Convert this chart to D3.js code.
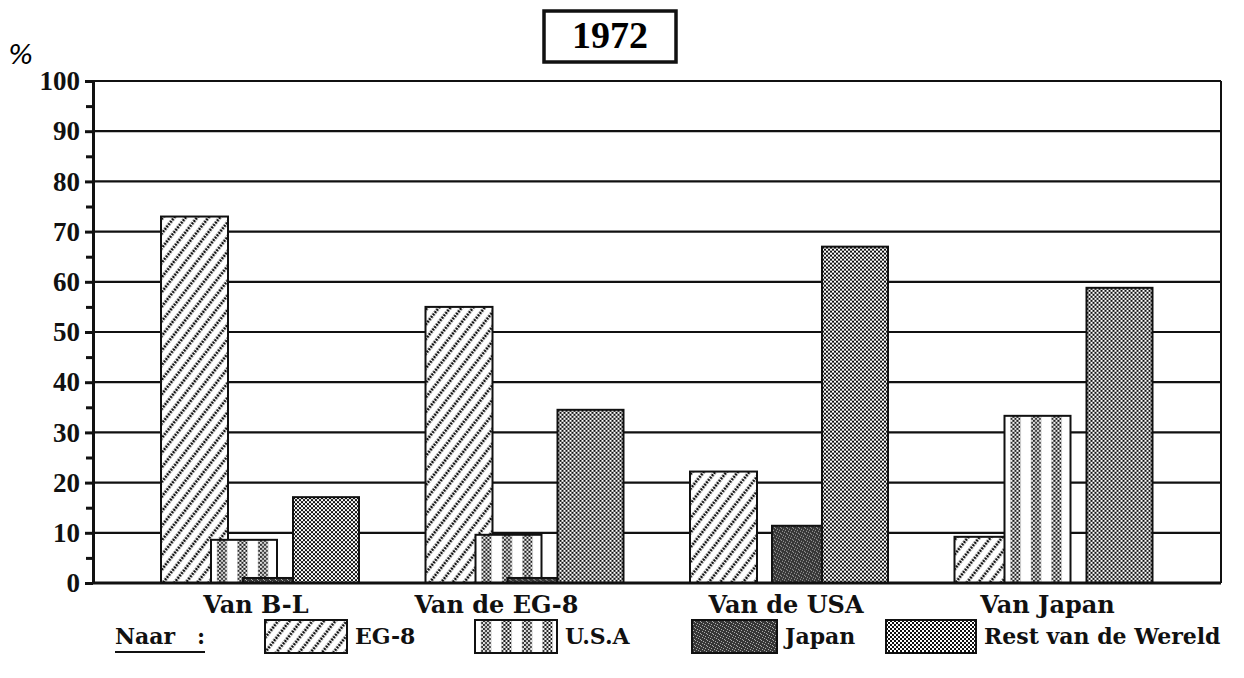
<!DOCTYPE html>
<html>
<head>
<meta charset="utf-8">
<title>1972</title>
<script src="https://cdn.jsdelivr.net/npm/d3@7"></script>
<style>
body { margin: 0; background: #fff; }
.lbl { font-family: "DejaVu Serif", serif; font-weight: bold; font-size: 22px; fill: #111; }
.cat { font-size: 24px; }
.axis text { font-family: "Liberation Serif", serif; font-weight: bold; font-size: 27px; fill: #111; }
.axis path, .axis line { stroke: #111; }
</style>
</head>
<body>
<script>
var categories = ["Van B-L", "Van de EG-8", "Van de USA", "Van Japan"];
var series = ["EG-8", "U.S.A", "Japan", "Rest van de Wereld"];
var eg8   = [73, 55, 22.2, 9.2];
var usa   = [8.6, 9.6, 0, 33.3];
var japan = [1, 1, 11.4, 0];
var rest  = [17.1, 34.5, 67, 58.8];
var yTicks = [0, 10, 20, 30, 40, 50, 60, 70, 80, 90, 100];
var yMinor = [5, 15, 25, 35, 45, 55, 65, 75, 85, 95];

// layout (pixels)
var plot = {left: 93, right: 1221, top: 81, bottom: 583};
var barOffset = [0, 50, 82, 132],
    barWidth  = [67, 66, 50, 66];
var labelShift = [-4, -28, -3, -6];
var legendBox = [[265, 82], [475, 82], [692, 85], [886, 90]];

var values = [eg8, usa, japan, rest];
var fills = ["url(#hatch)", "url(#stripes)", "url(#dark)", "url(#checker)"];

var svg = d3.select("body").append("svg")
    .attr("width", 1244)
    .attr("height", 678);

// fill patterns
var defs = svg.append("defs");
var chk = defs.append("pattern").attr("id", "checker")
    .attr("patternUnits", "userSpaceOnUse").attr("width", 4).attr("height", 4);
chk.append("rect").attr("width", 4).attr("height", 4).attr("fill", "#fff");
chk.append("rect").attr("width", 2).attr("height", 2).attr("fill", "#111");
chk.append("rect").attr("x", 2).attr("y", 2).attr("width", 2).attr("height", 2).attr("fill", "#111");

var hatch = defs.append("pattern").attr("id", "hatch")
    .attr("patternUnits", "userSpaceOnUse").attr("width", 9).attr("height", 9)
    .attr("patternTransform", "rotate(38)");
hatch.append("rect").attr("width", 9).attr("height", 9).attr("fill", "#fff");
hatch.append("line").attr("x1", 2).attr("x2", 2).attr("y1", 0).attr("y2", 9)
    .attr("stroke", "#111").attr("stroke-width", 2.8).attr("stroke-dasharray", "2,1");

var stripes = defs.append("pattern").attr("id", "stripes")
    .attr("patternUnits", "userSpaceOnUse").attr("width", 20.5).attr("height", 8);
stripes.append("rect").attr("width", 20.5).attr("height", 8).attr("fill", "#fff");
stripes.append("rect").attr("x", 6).attr("width", 10).attr("height", 8).attr("fill", "url(#checker)");

var dark = defs.append("pattern").attr("id", "dark")
    .attr("patternUnits", "userSpaceOnUse").attr("width", 6).attr("height", 6);
dark.append("rect").attr("width", 6).attr("height", 6).attr("fill", "#363636");
[[0, 0], [3, 2], [1, 4], [5, 3], [4, 5], [2, 1]].forEach(function(p) {
  dark.append("rect").attr("x", p[0]).attr("y", p[1]).attr("width", 1).attr("height", 1).attr("fill", "#aaa");
});

var y = d3.scaleLinear().domain([0, 100]).range([plot.bottom, plot.top]);
var x = d3.scaleBand().domain(categories).range([161, 161 + 4 * 264.5]);

// grid lines
svg.append("g").selectAll("line")
    .data(yTicks.slice(1))
  .enter().append("line")
    .attr("x1", plot.left).attr("x2", plot.right)
    .attr("y1", function(d) { return y(d); })
    .attr("y2", function(d) { return y(d); })
    .attr("stroke", "#111").attr("stroke-width", 2.2);

svg.append("line")
    .attr("x1", plot.right).attr("x2", plot.right)
    .attr("y1", plot.top).attr("y2", plot.bottom)
    .attr("stroke", "#111").attr("stroke-width", 2);

// bars, one series after the other so later ones lie on top
series.forEach(function(s, si) {
  svg.append("g").selectAll("g")
      .data(categories)
    .enter().append("g")
      .attr("transform", function(c, ci) {
        return "translate(" + (x(c) + barOffset[si]) + "," + y(values[si][ci]) + ")";
      })
      .filter(function(c, ci) { return values[si][ci] > 0; })
    .append("rect")
      .attr("width", barWidth[si])
      .attr("height", function(c) { return y(0) - y(values[si][categories.indexOf(c)]); })
      .attr("fill", fills[si])
      .attr("stroke", "#111")
      .attr("stroke-width", 2);
});

// axes
svg.append("g")
    .attr("class", "axis")
    .attr("transform", "translate(" + plot.left + ",0)")
    .call(d3.axisLeft(y).tickValues(yTicks).tickSize(8).tickSizeOuter(0).tickPadding(5))
    .call(function(g) { g.selectAll("line").attr("stroke-width", 3); g.select("path").attr("stroke-width", 3); });
svg.append("g")
    .attr("class", "axis")
    .attr("transform", "translate(" + plot.left + ",0)")
    .call(d3.axisLeft(y).tickValues(yMinor).tickSize(7).tickFormat(""))
    .call(function(g) { g.select("path").remove(); g.selectAll("line").attr("stroke-width", 3); });

svg.append("line")
    .attr("x1", plot.left).attr("x2", plot.right)
    .attr("y1", y(0)).attr("y2", y(0))
    .attr("stroke", "#111").attr("stroke-width", 3);
svg.append("line")
    .attr("x1", plot.left).attr("x2", plot.right)
    .attr("y1", y(100)).attr("y2", y(100))
    .attr("stroke", "#111").attr("stroke-width", 2);

// category labels
svg.append("g").selectAll("text")
    .data(categories)
  .enter().append("text")
    .attr("class", "lbl cat")
    .attr("x", function(c, i) { return x(c) + 99 + labelShift[i]; })
    .attr("y", 613)
    .attr("text-anchor", "middle")
    .text(function(c) { return c; });

// title
svg.append("rect")
    .attr("x", 544).attr("y", 11).attr("width", 132).attr("height", 51)
    .attr("fill", "#fff").attr("stroke", "#111").attr("stroke-width", 3.5);
svg.append("text")
    .attr("x", 610).attr("y", 48)
    .attr("text-anchor", "middle")
    .style("font-family", "Liberation Serif, serif")
    .style("font-weight", "bold")
    .style("font-size", "38px")
    .text("1972");

svg.append("text")
    .attr("x", 8).attr("y", 64)
    .style("font-family", "DejaVu Sans, sans-serif")
    .style("font-size", "27px")
    .style("font-style", "italic")
    .text("%");

// legend
svg.append("text").attr("class", "lbl").attr("x", 115).attr("y", 644).text("Naar");
svg.append("text").attr("class", "lbl").attr("x", 197).attr("y", 644).text(":");
svg.append("line")
    .attr("x1", 115).attr("x2", 205).attr("y1", 652).attr("y2", 652)
    .attr("stroke", "#111").attr("stroke-width", 2);

var legend = svg.append("g").selectAll("g")
    .data(series)
  .enter().append("g")
    .attr("transform", function(d, i) { return "translate(" + legendBox[i][0] + ",620)"; });
legend.append("rect")
    .attr("width", function(d, i) { return legendBox[i][1]; })
    .attr("height", 33)
    .attr("fill", function(d, i) { return fills[i]; })
    .attr("stroke", "#111")
    .attr("stroke-width", 2);
legend.append("text")
    .attr("class", "lbl")
    .attr("x", function(d, i) { return legendBox[i][1] + 8; })
    .attr("y", 24)
    .text(function(d) { return d; });
</script>
</body>
</html>
